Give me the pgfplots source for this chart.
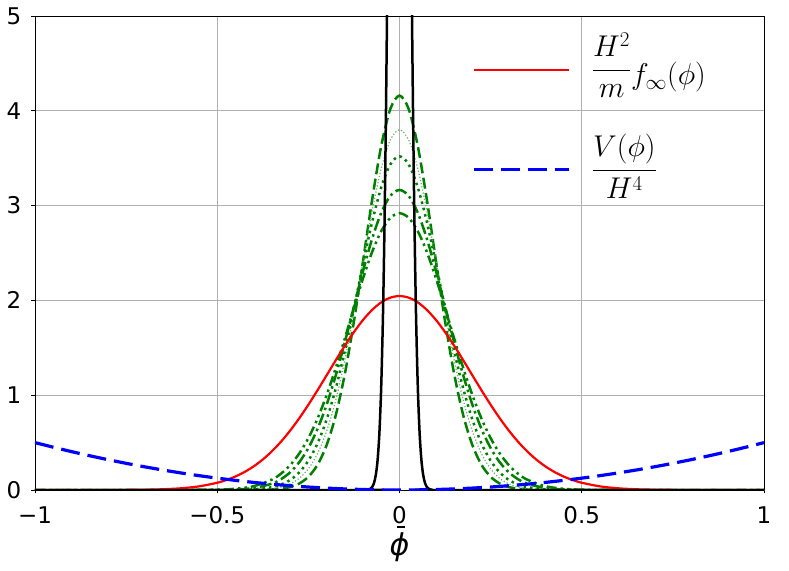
\RequirePackage{fix-cm}
\documentclass[border=0pt]{standalone}
\usepackage{fontspec}
\setmainfont{DejaVu Sans}
\usepackage{pgfplots}
\pgfplotsset{compat=1.18}
\definecolor{mgreen}{rgb}{0,0.5,0}
\definecolor{gridgray}{HTML}{B0B0B0}
\begin{document}
\begin{tikzpicture}
\begin{axis}[
  scale only axis, width=729pt, height=474pt,
  xmin=-1, xmax=1, ymin=0, ymax=5,
  xtick={-1,-0.5,0,0.5,1}, xticklabels={−1,−0.5,0,0.5,1},
  ytick={0,1,2,3,4,5}, yticklabels={0,1,2,3,4,5},
  tick align=outside, tick pos=left, major tick length=3.5pt,
  every tick/.style={black, line width=0.8pt},
  grid=major, major grid style={gridgray, line width=0.8pt},
  axis line style={black, line width=0.8pt},
  ticklabel style={font=\fontsize{23}{27}\selectfont, inner sep=0pt},
  xticklabel style={yshift=-13pt},
  yticklabel style={xshift=-10pt},
  xlabel={{\itshape ϕ}\llap{\raisebox{27.8pt}{\rule{8pt}{1.8pt}}\hspace{4.5pt}}},
  xlabel style={font=\fontsize{30}{34}\selectfont, at={(axis description cs:0.5,0)}, anchor=north, yshift=-36pt, inner sep=0pt},
  legend style={draw=none, fill=none, at={(axis description cs:0.5995,0.9652)}, anchor=north west,
    inner sep=0pt, outer sep=0pt, column sep=21.8pt, row sep=48.3pt,
    font=\fontsize{30}{34}\selectfont, cells={anchor=base west}, nodes={inner sep=0pt}},
  legend image code/.code={\draw[#1] (0pt,15pt) -- (95pt,15pt);},
]
% green curves
\addplot[mgreen, line width=2.5pt, dash pattern=on 11pt off 4.5pt, smooth, forget plot] coordinates {
(-1,0) (-0.5,0) (-0.4,0.0007) (-0.35,0.0053) (-0.325,0.0133) (-0.3,0.0312) (-0.275,0.0682) (-0.25,0.1392) (-0.225,0.2653) (-0.2,0.4728) (-0.175,0.7869) (-0.15,1.2241) (-0.125,1.7790) (-0.1,2.4153) (-0.075,3.0639) (-0.05,3.6313) (-0.025,4.0210) (0,4.16) (0.025,4.0210) (0.05,3.6313) (0.075,3.0639) (0.1,2.4153) (0.125,1.7790) (0.15,1.2241) (0.175,0.7869) (0.2,0.4728) (0.225,0.2653) (0.25,0.1392) (0.275,0.0682) (0.3,0.0312) (0.325,0.0133) (0.35,0.0053) (0.4,0.0007) (0.5,0) (1,0)};
\addplot[mgreen!60!white, line width=1.2pt, dash pattern=on 1.2pt off 2pt, smooth, forget plot] coordinates {
(-1,0) (-0.5,0) (-0.45,0.0004) (-0.4,0.0027) (-0.35,0.0147) (-0.325,0.0315) (-0.3,0.0641) (-0.275,0.1230) (-0.25,0.2231) (-0.225,0.3823) (-0.2,0.6191) (-0.175,0.9472) (-0.15,1.3693) (-0.125,1.8705) (-0.1,2.4143) (-0.075,2.9441) (-0.05,3.3926) (-0.025,3.6938) (0,3.80) (0.025,3.6938) (0.05,3.3926) (0.075,2.9441) (0.1,2.4143) (0.125,1.8705) (0.15,1.3693) (0.175,0.9472) (0.2,0.6191) (0.225,0.3823) (0.25,0.2231) (0.275,0.1230) (0.3,0.0641) (0.325,0.0315) (0.35,0.0147) (0.4,0.0027) (0.45,0.0004) (0.5,0) (1,0)};
\addplot[mgreen, line width=2.5pt, dash pattern=on 2.5pt off 4pt, smooth, forget plot] coordinates {
(-1,0) (-0.6,0) (-0.5,0.0002) (-0.45,0.0013) (-0.4,0.0069) (-0.35,0.0299) (-0.325,0.0577) (-0.3,0.1060) (-0.275,0.1854) (-0.25,0.3091) (-0.225,0.4906) (-0.2,0.7419) (-0.175,1.0687) (-0.15,1.4661) (-0.125,1.9160) (-0.1,2.3851) (-0.075,2.8278) (-0.05,3.1936) (-0.025,3.4354) (0,3.52) (0.025,3.4354) (0.05,3.1936) (0.075,2.8278) (0.1,2.3851) (0.125,1.9160) (0.15,1.4661) (0.175,1.0687) (0.2,0.7419) (0.225,0.4906) (0.25,0.3091) (0.275,0.1854) (0.3,0.1060) (0.325,0.0577) (0.35,0.0299) (0.4,0.0069) (0.45,0.0013) (0.5,0.0002) (0.6,0) (1,0)};
\addplot[mgreen, line width=2.5pt, dash pattern=on 12pt off 4pt on 2.5pt off 4pt, smooth, forget plot] coordinates {
(-1,0) (-0.6,0) (-0.5,0.0012) (-0.45,0.0054) (-0.4,0.0206) (-0.35,0.0670) (-0.325,0.1139) (-0.3,0.1864) (-0.275,0.2930) (-0.25,0.4428) (-0.225,0.6434) (-0.2,0.8989) (-0.175,1.2073) (-0.15,1.5590) (-0.125,1.9357) (-0.1,2.3106) (-0.075,2.6515) (-0.05,2.9255) (-0.025,3.1034) (0,3.165) (0.025,3.1034) (0.05,2.9255) (0.075,2.6515) (0.1,2.3106) (0.125,1.9357) (0.15,1.5590) (0.175,1.2073) (0.2,0.8989) (0.225,0.6434) (0.25,0.4428) (0.275,0.2930) (0.3,0.1864) (0.325,0.1139) (0.35,0.0670) (0.4,0.0206) (0.45,0.0054) (0.5,0.0012) (0.6,0) (1,0)};
\addplot[mgreen, line width=2.5pt, dash pattern=on 10pt off 4pt on 2.5pt off 4pt on 2.5pt off 4pt, smooth, forget plot] coordinates {
(-1,0) (-0.7,0) (-0.6,0.0002) (-0.5,0.0036) (-0.45,0.0129) (-0.4,0.0402) (-0.35,0.1097) (-0.325,0.1725) (-0.3,0.2621) (-0.275,0.3851) (-0.25,0.5474) (-0.225,0.7524) (-0.2,1.0002) (-0.175,1.2856) (-0.15,1.5982) (-0.125,1.9213) (-0.1,2.2339) (-0.075,2.5116) (-0.05,2.7309) (-0.025,2.8715) (0,2.92) (0.025,2.8715) (0.05,2.7309) (0.075,2.5116) (0.1,2.2339) (0.125,1.9213) (0.15,1.5982) (0.175,1.2856) (0.2,1.0002) (0.225,0.7524) (0.25,0.5474) (0.275,0.3851) (0.3,0.2621) (0.325,0.1725) (0.35,0.1097) (0.4,0.0402) (0.45,0.0129) (0.5,0.0036) (0.6,0.0002) (0.7,0) (1,0)};
% red
\addplot[red, line width=2.2pt, smooth] coordinates {
(-1,0) (-0.9,0.0001) (-0.8,0.0005) (-0.7,0.0033) (-0.65,0.0079) (-0.6,0.0180) (-0.55,0.0383) (-0.5,0.0764) (-0.475,0.1053) (-0.45,0.1428) (-0.425,0.1903) (-0.4,0.2496) (-0.375,0.3220) (-0.35,0.4087) (-0.325,0.5102) (-0.3,0.6265) (-0.275,0.7569) (-0.25,0.8995) (-0.225,1.0515) (-0.2,1.2092) (-0.175,1.3679) (-0.15,1.5220) (-0.125,1.6660) (-0.1,1.7939) (-0.075,1.9001) (-0.05,1.9798) (-0.025,2.0293) (0,2.046) (0.025,2.0293) (0.05,1.9798) (0.075,1.9001) (0.1,1.7939) (0.125,1.6660) (0.15,1.5220) (0.175,1.3679) (0.2,1.2092) (0.225,1.0515) (0.25,0.8995) (0.275,0.7569) (0.3,0.6265) (0.325,0.5102) (0.35,0.4087) (0.375,0.3220) (0.4,0.2496) (0.425,0.1903) (0.45,0.1428) (0.475,0.1053) (0.5,0.0764) (0.55,0.0383) (0.6,0.0180) (0.65,0.0079) (0.7,0.0033) (0.8,0.0005) (0.9,0.0001) (1,0)};
\addlegendentry{\raisebox{7.5pt}{$\displaystyle\frac{H^2}{\rule{0pt}{25.8pt}m}$}$f_\infty(\phi)$}
% black
\addplot[black, line width=2.5pt, smooth, forget plot] coordinates {
(-1,0) (-0.1,0) (-0.09,0.0019) (-0.08,0.0134) (-0.075,0.0322) (-0.07,0.0733) (-0.065,0.158) (-0.06,0.320) (-0.055,0.615) (-0.05,1.115) (-0.045,1.912) (-0.04,3.095) (-0.035,4.736) (-0.03,6.847) (-0.025,9.352) (-0.02,12.071) (-0.015,14.721) (-0.01,16.963) (-0.005,18.469) (0,19) (0.005,18.469) (0.01,16.963) (0.015,14.721) (0.02,12.071) (0.025,9.352) (0.03,6.847) (0.035,4.736) (0.04,3.095) (0.045,1.912) (0.05,1.115) (0.055,0.615) (0.06,0.320) (0.065,0.158) (0.07,0.0733) (0.075,0.0322) (0.08,0.0134) (0.09,0.0019) (0.1,0) (1,0)};
% blue
\addplot[blue, line width=3.2pt, dash pattern=on 19pt off 8pt] coordinates {
(-1,0.5) (-0.95,0.45125) (-0.9,0.405) (-0.85,0.36125) (-0.8,0.32) (-0.75,0.28125) (-0.7,0.245) (-0.65,0.21125) (-0.6,0.18) (-0.55,0.15125) (-0.5,0.125) (-0.45,0.10125) (-0.4,0.08) (-0.35,0.06125) (-0.3,0.045) (-0.25,0.03125) (-0.2,0.02) (-0.15,0.01125) (-0.1,0.005) (-0.05,0.00125) (0,0) (0.05,0.00125) (0.1,0.005) (0.15,0.01125) (0.2,0.02) (0.25,0.03125) (0.3,0.045) (0.35,0.06125) (0.4,0.08) (0.45,0.10125) (0.5,0.125) (0.55,0.15125) (0.6,0.18) (0.65,0.21125) (0.7,0.245) (0.75,0.28125) (0.8,0.32) (0.85,0.36125) (0.9,0.405) (0.95,0.45125) (1,0.5)};
\addlegendentry{\raisebox{7.5pt}{$\displaystyle\frac{V(\phi)\rule[-10.3pt]{0pt}{0pt}}{\rule{0pt}{27.5pt}H^4}$}}
\end{axis}
\pgfresetboundingbox
\path ([shift={(-35pt,-80pt)}]current axis.south west) rectangle ([shift={(25pt,16pt)}]current axis.north east);
\end{tikzpicture}
\end{document}
